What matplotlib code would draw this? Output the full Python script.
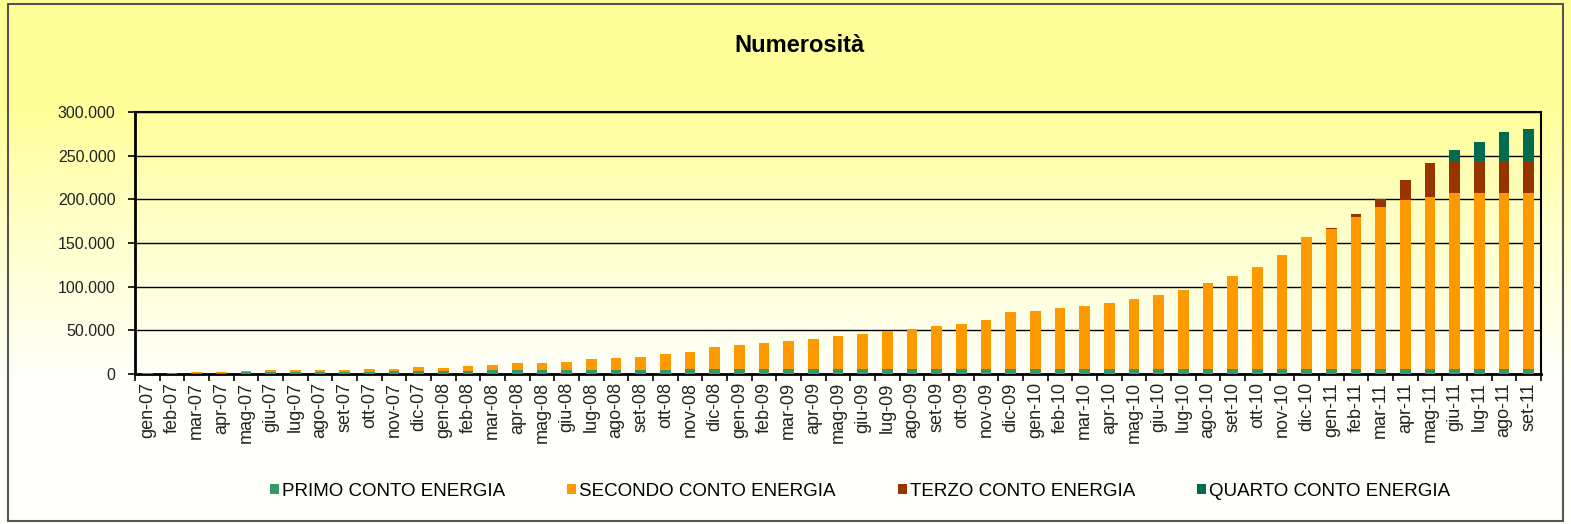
import numpy as np
import matplotlib
matplotlib.use("Agg")
import matplotlib.pyplot as plt
from matplotlib.ticker import FuncFormatter, FixedLocator
from matplotlib.patches import Rectangle

plt.rcParams['font.family'] = ['Liberation Sans', 'DejaVu Sans']

months = ["gen-07", "feb-07", "mar-07", "apr-07", "mag-07", "giu-07", "lug-07", "ago-07",
          "set-07", "ott-07", "nov-07", "dic-07", "gen-08", "feb-08", "mar-08", "apr-08",
          "mag-08", "giu-08", "lug-08", "ago-08", "set-08", "ott-08", "nov-08", "dic-08",
          "gen-09", "feb-09", "mar-09", "apr-09", "mag-09", "giu-09", "lug-09", "ago-09",
          "set-09", "ott-09", "nov-09", "dic-09", "gen-10", "feb-10", "mar-10", "apr-10",
          "mag-10", "giu-10", "lug-10", "ago-10", "set-10", "ott-10", "nov-10", "dic-10",
          "gen-11", "feb-11", "mar-11", "apr-11", "mag-11", "giu-11", "lug-11", "ago-11",
          "set-11"]

primo = [600, 700, 800, 900, 1800, 2000, 2200, 2300, 2500, 2700, 3000, 3300, 3500, 3700,
         3900, 4100, 4300, 4500, 4700, 4800, 4900, 5000, 5100, 5200, 5300, 5400, 5450, 5500,
         5550, 5600, 5650, 5700, 5700, 5700, 5700, 5700, 5700, 5700, 5700, 5700, 5700, 5700,
         5700, 5700, 5700, 5700, 5700, 5700, 5700, 5700, 5700, 5700, 5700, 5700, 5700, 5700,
         5700]

secondo = [900, 900, 900, 900, 2000, 1900, 1800, 1600, 1600, 3100, 2900, 4300, 3700, 5200,
           6500, 7900, 7800, 9300, 12000, 13400, 14500, 17400, 20400, 26000, 27400, 30400,
           31850, 34500, 37450, 40500, 43850, 46100, 48900, 51600, 56200, 65000, 66500,
           69200, 72200, 75300, 79500, 84100, 89800, 98600, 106100, 116800, 130200, 150800,
           160000, 174500, 185900, 193500, 197300, 201200, 201200, 201200, 201200]

terzo = [0] * 48 + [1100, 2600, 8400, 23300, 38600, 37400, 37400, 37400, 37400]

quarto = [0] * 53 + [11800, 21000, 32800, 35900]

series_names = ["PRIMO CONTO ENERGIA", "SECONDO CONTO ENERGIA",
                "TERZO CONTO ENERGIA", "QUARTO CONTO ENERGIA"]
colors = ["#339966", "#ff9900", "#993300", "#006b4f"]

fig = plt.figure(figsize=(15.71, 5.24), dpi=100)

# yellow -> white background gradient behind everything
bg = fig.add_axes([0, 0, 1, 1], zorder=-10)
rows = np.linspace(0, 1, 524)
t = np.clip((rows * 524 - 110) / 270, 0, 1) ** 0.9
yellow = np.array([255, 255, 153]) / 255
white = np.array([255, 255, 252]) / 255
grad = yellow[None, :] * (1 - t[:, None]) + white[None, :] * t[:, None]
bg.imshow(grad[:, None, :], aspect="auto", extent=[0, 1, 0, 1], origin="upper")
bg.axis("off")

ax = fig.add_axes([135 / 1571, 1 - 373.9 / 524, 1406 / 1571, 262 / 524])
ax.set_facecolor("none")

x = np.arange(len(months))
bottom = np.zeros(len(months))
for name, vals, c in zip(series_names, [primo, secondo, terzo, quarto], colors):
    ax.bar(x, vals, 0.42, bottom=bottom, color=c, label=name, zorder=3)
    bottom += np.array(vals)

ax.set_xlim(-0.5, len(months) - 0.5)
ax.set_ylim(0, 300000)
ax.set_yticks(np.arange(0, 300001, 50000))
ax.yaxis.set_major_formatter(FuncFormatter(lambda v, p: f"{int(v):,}".replace(",", ".")))
ax.grid(axis="y", color="black", linewidth=1, zorder=1)

ax.set_xticks(x)
ax.set_xticklabels(months, rotation=90)
ax.xaxis.set_minor_locator(FixedLocator(np.arange(-0.5, len(months), 1)))
ax.tick_params(axis="x", which="major", length=0, pad=6, labelsize=13, colors="#222222")
ax.tick_params(axis="x", which="minor", length=5, width=1.2, direction="out")
ax.tick_params(axis="y", length=5, width=1.2, pad=9, labelsize=11.5, colors="#222222")
ax.tick_params(axis="both", color="black")

for side in ["left", "bottom"]:
    ax.spines[side].set_linewidth(2)
for side in ["top", "right"]:
    ax.spines[side].set_linewidth(1.5)

fig.text(0.509, 1 - 45 / 524, "Numerosità", ha="center", va="center",
         fontsize=17, fontweight="bold")

ax.legend(loc="center", bbox_to_anchor=(860 / 1571, 1 - 491 / 524),
          bbox_transform=fig.transFigure, ncol=4, frameon=False, fontsize=13.5,
          handlelength=0.5, handleheight=0.5, handletextpad=0.15, columnspacing=3.3)

fig.patches.append(Rectangle((8 / 1571, 3 / 524), 1555 / 1571, 517 / 524,
                             transform=fig.transFigure, fill=False,
                             edgecolor="#555555", linewidth=1.5))

fig.savefig("out.png", dpi=100)
